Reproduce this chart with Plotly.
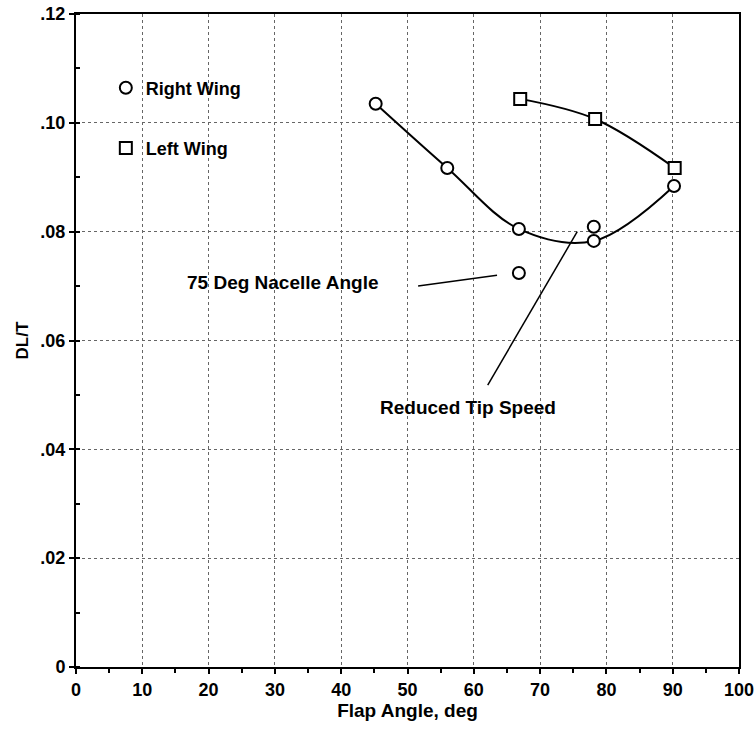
import plotly.graph_objects as go

# Data
right_x = [45.2, 56.0, 66.8, 78.1, 78.1, 90.2]
right_y = [0.1035, 0.0917, 0.0805, 0.0809, 0.0783, 0.0884]
right_fair_idx = [0, 1, 2, 4, 5]  # points the faired curve passes through

nacelle_x = [66.8]
nacelle_y = [0.0724]

left_x = [67.0, 78.3, 90.3]
left_y = [0.1044, 0.1007, 0.0917]

x_ticks = [0, 10, 20, 30, 40, 50, 60, 70, 80, 90, 100]
y_ticks = [0, 0.02, 0.04, 0.06, 0.08, 0.10, 0.12]
y_ticktext = ["0", ".02", ".04", ".06", ".08", ".10", ".12"]

FONT = "Liberation Sans, Arial, Helvetica, sans-serif"

fig = go.Figure()

# faired curves
fig.add_trace(go.Scatter(
    x=[right_x[i] for i in right_fair_idx], y=[right_y[i] for i in right_fair_idx],
    mode="lines", line=dict(color="black", width=2, shape="spline", smoothing=1.0),
    showlegend=False, hoverinfo="skip"))
fig.add_trace(go.Scatter(
    x=left_x, y=left_y, mode="lines",
    line=dict(color="black", width=2, shape="spline", smoothing=1.0),
    showlegend=False, hoverinfo="skip"))

# markers
fig.add_trace(go.Scatter(
    x=right_x, y=right_y, mode="markers", name="Right Wing", legendgroup="r",
    marker=dict(symbol="circle", size=12, color="white", line=dict(color="black", width=2))))
fig.add_trace(go.Scatter(
    x=nacelle_x, y=nacelle_y, mode="markers", showlegend=False,
    marker=dict(symbol="circle", size=12, color="white", line=dict(color="black", width=2))))
fig.add_trace(go.Scatter(
    x=left_x, y=left_y, mode="markers", name="Left Wing", legendgroup="l",
    marker=dict(symbol="square", size=12, color="white", line=dict(color="black", width=2))))

# leader lines
fig.add_shape(type="line", x0=51.6, y0=0.0700, x1=63.5, y1=0.0720,
              line=dict(color="black", width=1.5))
fig.add_shape(type="line", x0=62.1, y0=0.0518, x1=75.6, y1=0.0800,
              line=dict(color="black", width=1.5))

fig.add_annotation(x=31.2, y=0.0706, text="75 Deg Nacelle Angle", showarrow=False,
                   font=dict(family=FONT, size=19, color="black", weight="bold"))
fig.add_annotation(x=59.1, y=0.0476, text="Reduced Tip Speed", showarrow=False,
                   font=dict(family=FONT, size=19, color="black", weight="bold"))

axis_common = dict(
    showline=True, linecolor="black", linewidth=2, mirror=True,
    showgrid=True, gridcolor="#666", gridwidth=1, griddash="dot",
    zeroline=False, automargin=False, ticklabeloverflow="allow",
    ticks="outside", ticklen=5, tickwidth=1.5, tickcolor="black",
    tickfont=dict(family=FONT, size=18, color="black", weight="bold"),
)

fig.update_xaxes(
    range=[0, 100], tickvals=x_ticks,
    title=dict(text="Flap Angle, deg", font=dict(family=FONT, size=19, color="black", weight="bold"), standoff=4),
    minor=dict(dtick=5, ticks="outside", ticklen=4, tickcolor="black", showgrid=False),
    **axis_common)
fig.update_yaxes(
    range=[0, 0.12], tickvals=y_ticks, ticktext=y_ticktext,
    title=dict(text="DL/T", font=dict(family=FONT, size=17, color="black", weight="bold"), standoff=7),
    minor=dict(dtick=0.01, ticks="inside", ticklen=4, tickcolor="black", showgrid=False),
    **axis_common)

fig.update_layout(
    width=754, height=731,
    margin=dict(l=76, r=15, t=14, b=64),
    paper_bgcolor="white", plot_bgcolor="white",
    font=dict(family=FONT, color="black"),
    legend=dict(x=0.045, y=0.915, xanchor="left", yanchor="top",
                bgcolor="rgba(0,0,0,0)", tracegroupgap=34,
                font=dict(family=FONT, size=18, color="black", weight="bold")),
)

fig.write_html("out.html",
               config={"displayModeBar": False},
               post_script="document.body.style.margin='0';document.body.style.overflow='hidden';")
